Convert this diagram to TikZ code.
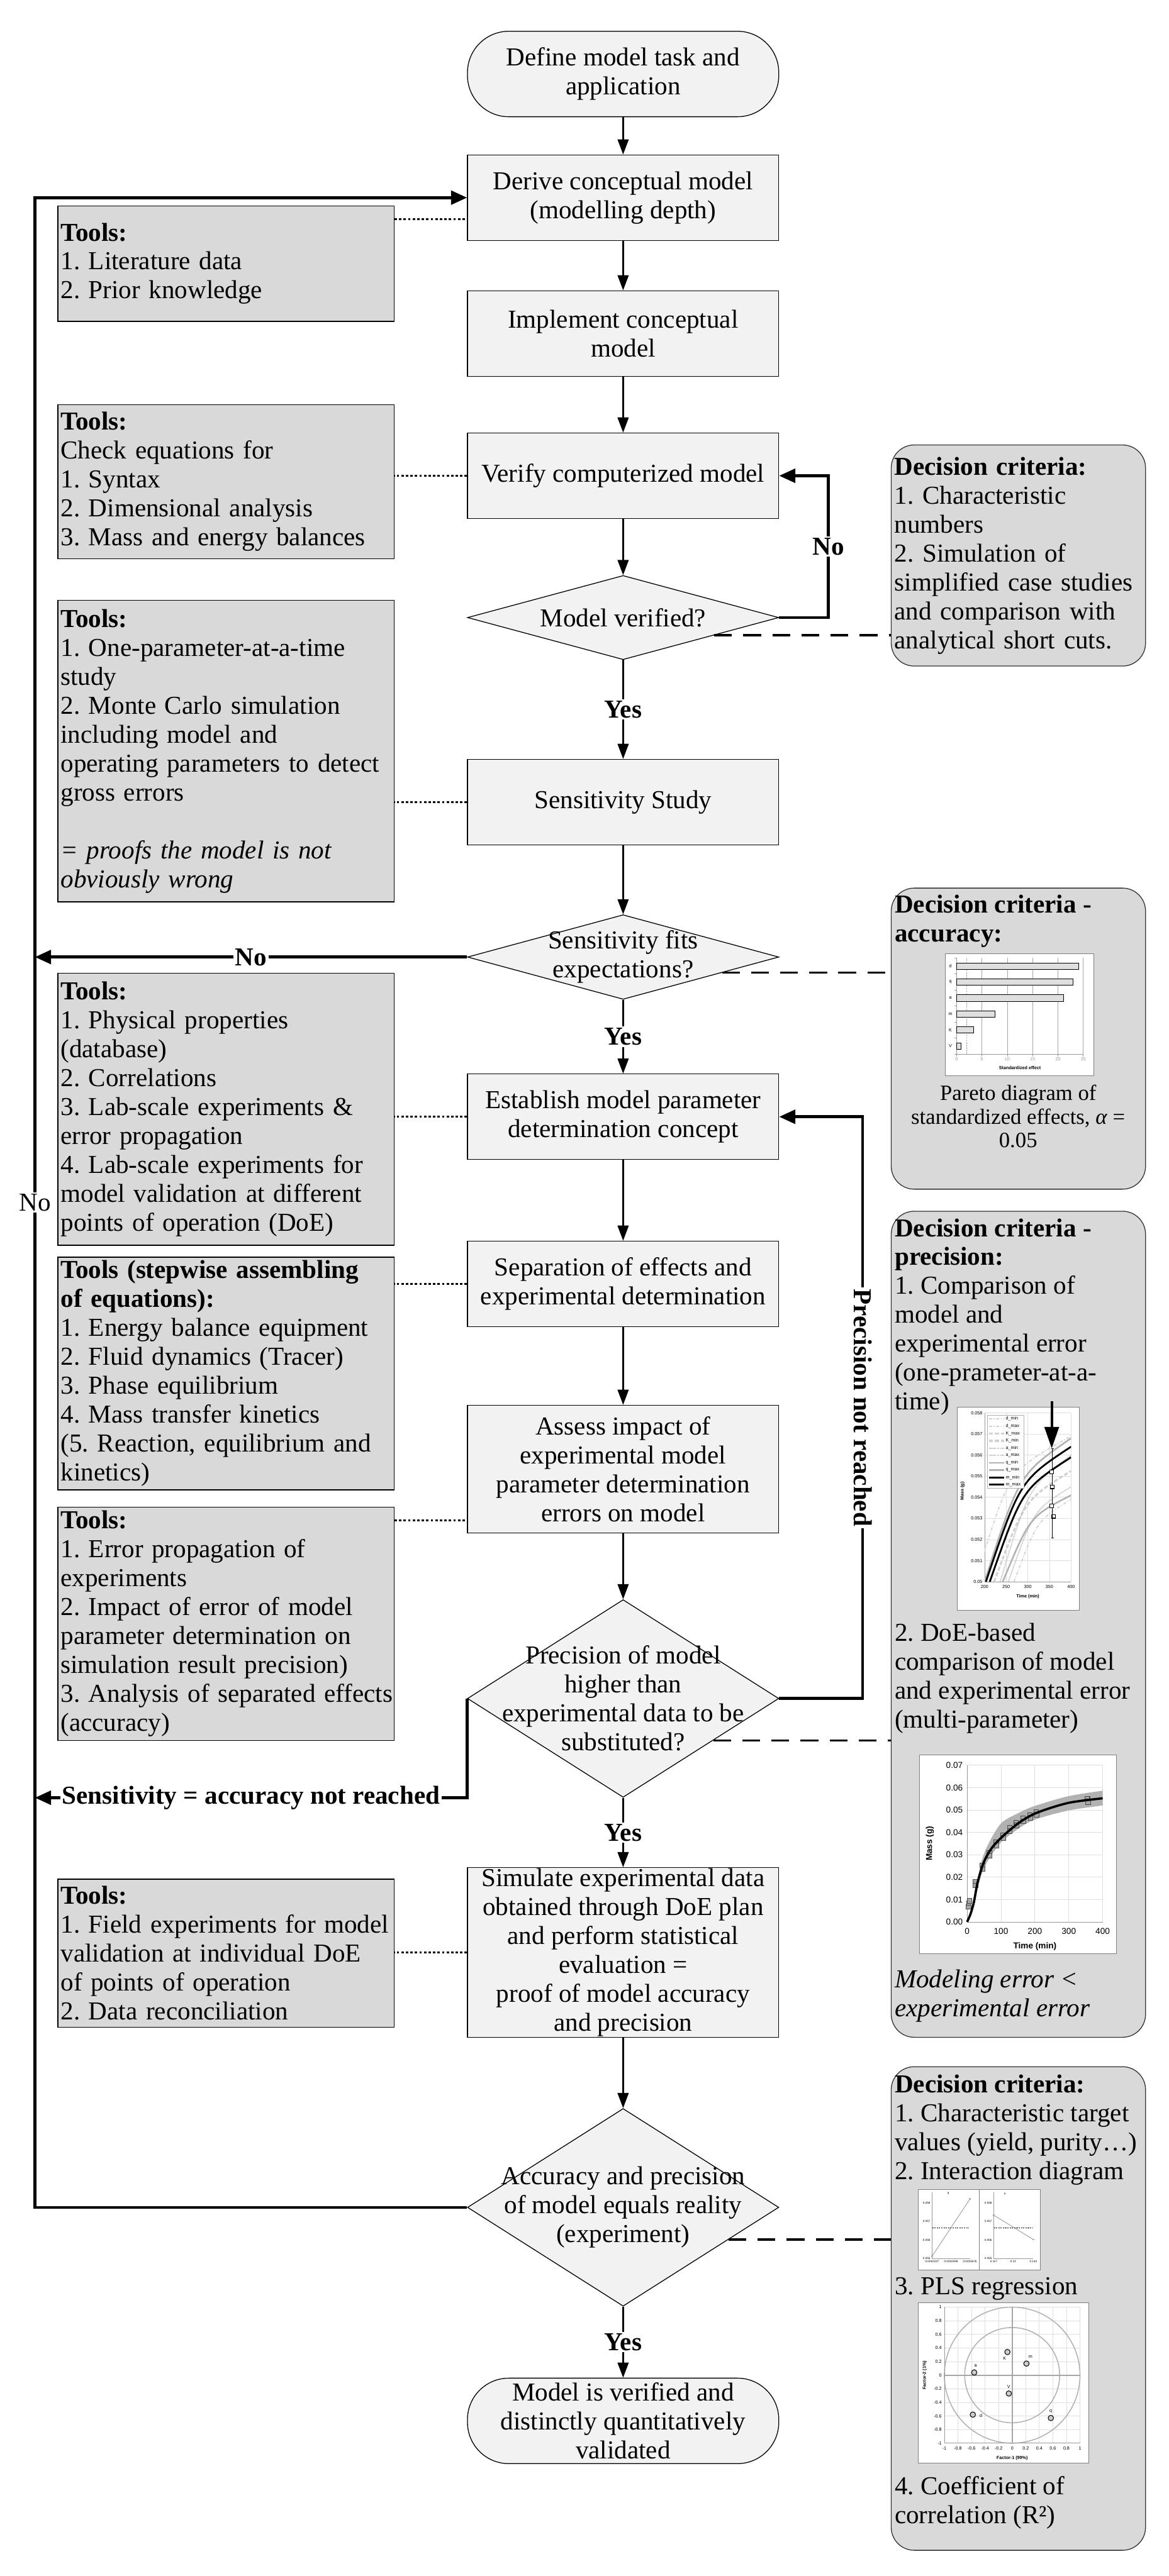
\documentclass[tikz,border=0pt]{standalone}
\usepackage{fontspec}
\setmainfont{Liberation Serif}
\setsansfont{Liberation Sans}
\usepackage{xcolor}
\usetikzlibrary{shapes.geometric, arrows.meta}

\definecolor{boxfill}{HTML}{F2F2F2}
\definecolor{toolfill}{HTML}{D9D9D9}
\newcommand{\flowfont}{\fontsize{16}{17.9}\selectfont}
\newcommand{\captionfont}{\fontsize{13.5}{14.6}\selectfont}

\begin{document}
\frenchspacing
\begin{tikzpicture}[x=1cm, y=-1cm, font=\flowfont,
    process/.style={rectangle, draw=black, line width=0.5pt, fill=boxfill, minimum width=6.77cm, minimum height=1.86cm, align=center, inner xsep=2pt, inner ysep=0pt},
    terminal/.style={process, rounded corners=0.9cm},
    decision/.style={diamond, draw=black, line width=0.5pt, fill=boxfill, minimum width=6.77cm, inner sep=0pt},
    toolbox/.style={rectangle, draw=black, line width=0.5pt, fill=toolfill, text width=7.19cm, align=left, inner xsep=0.06cm, inner ysep=0pt},
    critbox/.style={rectangle, draw=black!80, line width=0.5pt, fill=toolfill, rounded corners=0.5cm, minimum width=5.53cm},
    crittext/.style={anchor=west, align=left, inner sep=0pt},
    flow/.style={line width=0.9pt, -{Triangle[length=0.33cm, width=0.24cm]}},
    looparrow/.style={line width=1.8pt, -{Triangle[length=0.35cm, width=0.3cm]}},
    toolline/.style={line width=1.3pt, dash pattern=on 1.5pt off 1.3pt},
    critline/.style={line width=1.4pt, dash pattern=on 11pt off 7pt},
    lbl/.style={fill=white, font=\flowfont\bfseries, inner sep=1pt},
    raillbl/.style={fill=white, font=\flowfont, inner sep=1pt},
    chart/.style={draw=gray, line width=0.4pt, fill=white},
    ticklabel/.style={font=\sffamily\fontsize{2.8}{3.2}\selectfont, inner sep=0.6pt},
    ticktitle/.style={font=\sffamily\bfseries\fontsize{2.8}{3.2}\selectfont, inner sep=0.6pt},
    chartlabel/.style={font=\sffamily\fontsize{5.3}{6}\selectfont, inner sep=0.8pt},
    charttitle/.style={font=\sffamily\bfseries\fontsize{5.3}{6}\selectfont, inner sep=0.8pt},
    microlabel/.style={font=\sffamily\fontsize{1.8}{2}\selectfont, inner sep=0.4pt},
    curved/.style={gray!35, line width=0.7pt, dash pattern=on 2pt off 1pt on 0.5pt off 1pt},
    curvek/.style={gray!35, line width=1.2pt, dash pattern=on 2.5pt off 1.2pt},
    curvea/.style={gray!55, line width=0.7pt, dash pattern=on 0.5pt off 0.5pt},
    curveq/.style={gray!60, line width=1pt},
    curvem/.style={black, line width=1.1pt}
]

    % 1. Page
    \useasboundingbox (0,0) rectangle (25.41,56.04);
    \fill[white] (0,0) rectangle (25.41,56.04);

    % 2. Main flow column
    \node[terminal] (start) at (13.55,1.61) {Define model task and\\application};
    \node[process] (derive) at (13.55,4.30) {Derive conceptual model\\(modelling depth)};
    \node[process] (implement) at (13.55,7.255) {Implement conceptual\\model};
    \node[process] (verify) at (13.55,10.35) {Verify computerized model};
    \node[decision, minimum height=1.83cm, label={[align=center]center:Model verified?}] (verified) at (13.55,13.435) {};
    \node[process] (sens) at (13.55,17.45) {Sensitivity Study};
    \node[decision, minimum height=1.84cm, label={[align=center]center:{Sensitivity fits\\expectations?}}] (sensfit) at (13.55,20.82) {};
    \node[process] (establish) at (13.55,24.295) {Establish model parameter\\determination concept};
    \node[process] (separate) at (13.55,27.93) {Separation of effects and\\experimental determination};
    \node[process, minimum height=2.78cm] (assess) at (13.55,31.96) {Assess impact of\\experimental model\\parameter determination\\errors on model};
    \node[decision, minimum height=4.30cm, label={[align=center]center:{Precision of model\\higher than\\experimental data to be\\substituted?}}] (precise) at (13.55,36.95) {};
    \node[process, minimum height=3.69cm] (simulate) at (13.55,42.475) {Simulate experimental data\\obtained through DoE plan\\and perform statistical\\evaluation =\\proof of model accuracy\\and precision};
    \node[decision, minimum height=4.30cm, label={[align=center]center:{Accuracy and precision\\of model equals reality\\(experiment)}}] (reality) at (13.55,48.02) {};
    \node[terminal] (finish) at (13.55,52.665) {Model is verified and\\distinctly quantitatively\\validated};

    % 3. Tool boxes (left)
    \node[toolbox, minimum height=2.51cm] (t1) at (4.915,5.735) {\textbf{Tools:}\\1. Literature data\\2. Prior knowledge};
    \node[toolbox, minimum height=3.36cm] (t2) at (4.915,10.48) {\textbf{Tools:}\\Check equations for\\1. Syntax\\2. Dimensional analysis\\3. Mass and energy balances};
    \node[toolbox, minimum height=6.56cm] (t3) at (4.915,16.34) {\textbf{Tools:}\\1. One-parameter-at-a-time\\study\\2. Monte Carlo simulation\\including model and\\operating parameters to detect\\gross errors\\[17.9pt]\textit{= proofs the model is not}\\\textit{obviously wrong}};
    \node[toolbox, minimum height=5.92cm] (t4) at (4.915,24.13) {\textbf{Tools:}\\1. Physical properties\\(database)\\2. Correlations\\3. Lab-scale experiments \&\\error propagation\\4. Lab-scale experiments for\\model validation at different\\points of operation (DoE)};
    \node[toolbox, minimum height=5.06cm] (t5) at (4.915,29.88) {\textbf{Tools (stepwise assembling}\\\textbf{of equations):}\\1. Energy balance equipment\\2. Fluid dynamics (Tracer)\\3. Phase equilibrium\\4. Mass transfer kinetics\\(5. Reaction, equilibrium and\\kinetics)};
    \node[toolbox, minimum height=5.07cm] (t6) at (4.915,35.325) {\textbf{Tools:}\\1. Error propagation of\\experiments\\2. Impact of error of model\\parameter determination on\\simulation result precision)\\\mbox{3. Analysis of separated effects}\\(accuracy)};
    \node[toolbox, minimum height=3.22cm] (t7) at (4.915,42.49) {\textbf{Tools:}\\1. Field experiments for model\\validation at individual DoE\\of points of operation\\2. Data reconciliation};

    % 4. Decision criteria boxes (right)
    \node[critbox, minimum height=4.81cm, text width=5.39cm, align=left, inner xsep=0.07cm] (crit1) at (22.145,12.085) {\textbf{Decision criteria:}\\1. Characteristic\\numbers\\2. Simulation of\\simplified case studies\\and comparison with\\analytical short cuts.};
    \node[critbox, minimum height=6.55cm] (crit2) at (22.145,22.595) {};
    \node[critbox, minimum height=17.97cm] (crit3) at (22.145,35.335) {};
    \node[critbox, minimum height=10.52cm] (crit4) at (22.145,50.22) {};

    \node[crittext] (crit2head) at (19.45,20.04) {\textbf{Decision criteria -}\\\textbf{accuracy:}};
    \node[align=center, inner sep=0pt, font=\captionfont] (crit2cap) at (22.14,24.29) {Pareto diagram of\\standardized effects, \textit{α} =\\0.05};
    \node[crittext] (crit3a) at (19.45,28.65) {\textbf{Decision criteria -}\\\textbf{precision:}\\1. Comparison of\\model and\\experimental error\\(one-prameter-at-a-\\time)};
    \node[crittext] (crit3b) at (19.45,36.51) {2. DoE-based\\comparison of model\\and experimental error\\(multi-parameter)};
    \node[crittext] (crit3c) at (19.45,43.415) {\textit{Modeling error <}\\\textit{experimental error}};
    \node[crittext] (crit4a) at (19.45,46.33) {\textbf{Decision criteria:}\\1. Characteristic target\\values (yield, purity…)\\2. Interaction diagram};
    \node[crittext] (crit4b) at (19.45,49.79) {3. PLS regression};
    \node[crittext] (crit4c) at (19.45,54.45) {4. Coefficient of\\correlation (R²)};

    % 5. Flow arrows
    \draw[flow] (start) -- (derive);
    \draw[flow] (derive) -- (implement);
    \draw[flow] (implement) -- (verify);
    \draw[flow] (verify) -- (verified);
    \draw[flow] (verified) -- node[lbl] {Yes} (sens);
    \draw[flow] (sens) -- (sensfit);
    \draw[flow] (sensfit) -- node[lbl] {Yes} (establish);
    \draw[flow] (establish) -- (separate);
    \draw[flow] (separate) -- (assess);
    \draw[flow] (assess) -- (precise);
    \draw[flow] (precise) -- node[lbl] {Yes} (simulate);
    \draw[flow] (simulate) -- (reality);
    \draw[flow] (reality) -- node[lbl] {Yes} (finish);

    % 6. Feedback loops
    \coordinate (rail) at (0.76,4.30);
    \draw[looparrow] (verified.east) -- ++(1.07,0) |- node[pos=0.25, lbl] {No} (verify.east);
    \draw[looparrow] (sensfit.west) -- node[midway, lbl] {No} (sensfit.west -| rail);
    \draw[looparrow] (precise.east) -- ++(1.815,0) |- node[pos=0.25, lbl, rotate=-90] {Precision not reached} (establish.east);
    \draw[looparrow] (precise.west) |- node[pos=0.75, lbl] {Sensitivity = accuracy not reached} (precise.south -| rail);
    \draw[looparrow] (reality.west) -| node[pos=0.75, raillbl] {No} (rail) -- (derive.west);

    % 7. Tool connectors (dotted)
    \path ([yshift=-0.30cm]t1.north east) coordinate (t1c);
    \draw[toolline] (t1c) -- (t1c -| derive.west);
    \draw[toolline] (verify.west) -- (verify.west -| t2.east);
    \draw[toolline] (sens.west) -- (sens.west -| t3.east);
    \draw[toolline] (establish.west) -- (establish.west -| t4.east);
    \draw[toolline] (separate.west) -- (separate.west -| t5.east);
    \path ([yshift=-0.29cm]t6.north east) coordinate (t6c);
    \draw[toolline] (t6c) -- (t6c -| assess.west);
    \draw[toolline] (simulate.west) -- (simulate.west -| t7.east);

    % 8. Criteria connectors (dashed)
    \draw[critline] (verified.-11.4) -- (verified.-11.4 -| crit1.west);
    \draw[critline] (sensfit.-9.5) -- (sensfit.-9.5 -| crit2.west);
    \draw[critline] (precise.-25) -- (precise.-25 -| crit3.west);
    \draw[critline] (reality.-17.4) -- (reality.-17.4 -| crit4.west);

    % 9. Pareto diagram
    \draw[chart] (20.55,20.75) rectangle (23.78,23.40);
    \begin{scope}[shift={(20.80cm,-22.93cm)}, x=0.1103cm, y=0.348cm]
        \foreach \g in {5,10,...,25} \draw[gray!70, line width=0.3pt] (\g,0) -- (\g,6);
        \draw[gray!70, line width=0.3pt, dash pattern=on 1pt off 0.6pt] (2,0) -- (2,6);
        \draw[gray!80, line width=0.3pt] (0,6) -- (0,0) -- (25,0);
        \foreach \r in {0,...,6} \draw[gray!80, line width=0.3pt] (0,\r) -- (-0.4,\r);
        \foreach \g in {0,5,...,25} \draw[gray!80, line width=0.3pt] (\g,0) -- (\g,-0.15) node[below, ticklabel] {\g};
        \foreach \len/\row/\name in {24.1/5/d, 23/4/q, 21.1/3/a, 7.6/2/m, 3.4/1/K, 0.85/0/V} {
            \draw[fill=gray!25, line width=0.35pt] (0,\row+0.3) rectangle (\len,\row+0.7);
            \node[ticklabel] at (-1.2,\row+0.5) {\name};
        }
        \node[ticktitle] at (12.5,-0.85) {Standardized effect};
    \end{scope}

    % 10. One-parameter-at-a-time chart
    \draw[chart] (20.81,30.61) rectangle (23.47,35.03);
    \begin{scope}[shift={(21.41cm,-34.41cm)}, x=0.0094cm, y=0.459cm]
        \foreach \g in {50,100,150,200} \draw[gray!25, line width=0.3pt] (\g,0) -- (\g,8);
        \foreach \g in {1,...,8} \draw[gray!25, line width=0.3pt] (0,\g) -- (200,\g);
        \draw[gray!80, line width=0.3pt] (0,8) -- (0,0) -- (200,0);
        \foreach \g/\txt in {0/0.05,1/0.051,2/0.052,3/0.053,4/0.054,5/0.055,6/0.056,7/0.057,8/0.058}
            \node[ticklabel, left] at (-2,\g) {\txt};
        \foreach \g/\txt in {0/200,50/250,100/300,150/350,200/400}
            \node[ticklabel, below] at (\g,-0.1) {\txt};
        \node[ticktitle, rotate=90] at (-51,4.3) {Mass (g)};
        \node[ticktitle] at (100,-0.7) {Time (min)};
        \begin{scope}
            \clip (0,0) rectangle (200,8);
            \draw[curved] (68,0) .. controls (121,2.9) .. (200,3.9);
            \draw[curved] (0,1.45) .. controls (60,5.3) .. (200,6.9);
            \draw[curvek] (22,0) .. controls (93,3.9) .. (200,5.25);
            \draw[curvea] (36,0) .. controls (102,4.5) .. (200,6.0);
            \draw[curvea] (55,0) .. controls (113,3.4) .. (200,4.5);
            \draw[curveq] (0,0) .. controls (80,5.1) .. (200,6.8);
            \draw[curveq] (42,0) .. controls (105,3.1) .. (200,4.1);
            \draw[curvem] (3,0) .. controls (82,4.8) .. (200,6.4);
            \draw[curvem] (12,0) .. controls (87,4.4) .. (200,5.9);
        \end{scope}
        \draw[black, line width=0.4pt] (157,2.07) -- (157,6.3);
        \draw[black, line width=0.4pt] (154,2.07) -- (160,2.07) (154,6.3) -- (160,6.3);
        \foreach \t/\m in {155/5.2, 157/4.5, 155/3.6, 160/3.1}
            \draw[black, fill=white, line width=0.5pt] (\t,\m) ++(-0.04cm,-0.04cm) rectangle ++(0.08cm,0.08cm);
        \draw[gray!60, fill=white, line width=0.3pt] (6,4.42) rectangle (91,7.89);
        \foreach \name/\sty [count=\k from 0] in {d\_min/curved, d\_max/curved, K\_max/curvek, K\_min/curvek, a\_min/curvea, a\_max/curvea, q\_min/curveq, q\_max/curveq, m\_min/curvem, m\_max/curvem} {
            \draw[\sty] (10,7.72-0.347*\k) -- (45,7.72-0.347*\k);
            \node[ticklabel, anchor=west] at (46,7.72-0.347*\k) {\name};
        }
    \end{scope}
    \draw[line width=1.6pt, -{Triangle[length=0.47cm, width=0.31cm]}] (22.87,30.48) -- (22.87,31.51);

    % 11. DoE-based chart
    \draw[chart] (19.99,38.18) rectangle (24.28,42.50);
    \begin{scope}[shift={(21.03cm,-41.81cm)}, x=0.007375cm, y=0.0487cm]
        \foreach \g in {100,200,300,400} \draw[gray!25, line width=0.3pt] (\g,0) -- (\g,70);
        \foreach \g in {10,20,...,70} \draw[gray!25, line width=0.3pt] (0,\g) -- (400,\g);
        \draw[gray!80, line width=0.3pt] (0,70) -- (0,0) -- (400,0);
        \fill[gray!60] plot[smooth] coordinates {(0,0) (20,10) (40,25.5) (60,34) (100,44) (150,48.5) (200,51.8) (300,56.2) (400,58.6)}
            -- plot[smooth] coordinates {(400,52) (300,49.8) (200,45.7) (150,41.5) (100,35.5) (60,27) (40,20) (20,7.5) (0,0)} -- cycle;
        \foreach \t/\m in {4.5/6.8, 5.4/8.4, 7.7/9.4, 24.9/18, 24.9/16.3, 45.2/25.2, 46.6/23.5, 65.5/30.9, 66.9/29.4, 85.9/35.5, 87.2/34.1, 106/38.7, 107.6/37.5, 125.6/42, 126.6/40.6, 144.6/44.4, 146/43.1, 164.9/46.3, 166/45, 185.8/47.6, 187.6/46.5, 203.4/49, 205/47.9, 355/55, 356/53.9, 357/53.3}
            \draw[fill=gray!70, draw=black!70, line width=0.4pt] (\t,\m) ++(-0.05cm,-0.05cm) rectangle ++(0.1cm,0.1cm);
        \draw[black, line width=1.4pt] plot[smooth] coordinates {(0,0) (10,3.5) (20,8.8) (30,17) (45,25) (60,30) (80,34.4) (115,39.6) (160,45) (210,49) (300,53.2) (400,55.2)};
        \foreach \g/\txt in {0/0.00,10/0.01,20/0.02,30/0.03,40/0.04,50/0.05,60/0.06,70/0.07}
            \node[chartlabel, left] at (-8,\g) {\txt};
        \foreach \g in {0,100,200,300,400}
            \node[chartlabel, below] at (\g,-2) {\g};
        \node[charttitle, rotate=90] at (-110,35) {Mass (g)};
        \node[charttitle] at (200,-11) {Time (min)};
    \end{scope}

    % 12. Interaction diagram
    \draw[chart] (19.97,47.63) rectangle (22.62,49.38);
    \draw[gray, line width=0.3pt] (21.29,47.63) -- (21.29,49.38);
    \draw[gray!80, line width=0.3pt] (20.27,47.70) -- (20.27,49.13) -- (21.09,49.13);
    \draw[gray!80, line width=0.3pt] (21.61,47.70) -- (21.61,49.13) -- (22.47,49.13);
    \foreach \yy/\txt in {47.92/0.058, 48.32/0.057, 48.73/0.056, 49.13/0.055} {
        \node[microlabel, anchor=east] at (20.25,\yy) {\txt};
        \node[microlabel, anchor=east] at (21.59,\yy) {\txt};
    }
    \foreach \xx/\txt in {20.27/0.0010237, 20.68/0.0010459, 21.09/0.0010676, 21.61/0.117, 22.03/0.13, 22.47/0.143}
        \node[microlabel, anchor=north] at (\xx,49.16) {\txt};
    \draw[gray!70, line width=0.4pt] (20.27,49.08) -- (21.09,47.84);
    \draw[gray!70, line width=0.4pt] (21.61,48.19) -- (22.47,48.72);
    \foreach \xx/\yy in {20.27/49.08, 21.09/47.84, 21.61/48.19, 22.47/48.72}
        \fill[gray!60] (\xx,\yy) ++(-0.02,-0.02) rectangle ++(0.04,0.04);
    \draw[black, line width=0.3pt, dash pattern=on 0.8pt off 0.6pt] (20.27,48.46) -- (21.06,48.46);
    \draw[black, line width=0.3pt, dash pattern=on 0.8pt off 0.6pt] (21.61,48.46) -- (22.45,48.46);
    \node[microlabel] at (20.62,47.72) {q};
    \node[microlabel] at (21.85,47.72) {a};

    % 13. PLS regression chart
    \draw[chart] (19.97,50.10) rectangle (23.68,53.59);
    \begin{scope}[shift={(22.01cm,-51.67cm)}, x=1.475cm, y=1.48cm]
        \foreach \i in {-5,...,5} {
            \draw[gray!25, line width=0.3pt] (\i/5,-1) -- (\i/5,1);
            \draw[gray!25, line width=0.3pt] (-1,\i/5) -- (1,\i/5);
        }
        \draw[gray!60, line width=0.6pt] (0,0) circle[radius=1];
        \draw[gray!60, line width=0.6pt] (0,0) circle[radius=0.7];
        \draw[gray!70, line width=0.8pt] (-1,0) -- (1,0) (0,-1) -- (0,1);
        \draw[gray!80, line width=0.3pt] (-1,1) -- (-1,-1) -- (1,-1);
        \foreach \v/\txt in {-1/-1, -0.8/-0.8, -0.6/-0.6, -0.4/-0.4, -0.2/-0.2, 0/0, 0.2/0.2, 0.4/0.4, 0.6/0.6, 0.8/0.8, 1/1} {
            \node[ticklabel, left] at (-1.02,\v) {\txt};
            \node[ticklabel, below] at (\v,-1.03) {\txt};
        }
        \foreach \px/\py in {-0.56/0.04, -0.07/0.34, 0.21/0.17, -0.05/-0.27, -0.58/-0.58, 0.57/-0.63}
            \draw[fill=gray!40, line width=0.4pt] (\px,\py) circle[radius=0.04];
        \node[ticklabel] at (-0.54,0.14) {a};
        \node[ticklabel] at (-0.11,0.25) {K};
        \node[ticklabel] at (0.27,0.27) {m};
        \node[ticklabel] at (-0.05,-0.17) {V};
        \node[ticklabel] at (-0.46,-0.59) {d};
        \node[ticklabel] at (0.57,-0.53) {q};
        \node[ticktitle] at (0,-1.22) {Factor-1 (99\%)};
        \node[ticktitle, rotate=90] at (-1.29,0) {Factor-2 (1\%)};
    \end{scope}

\end{tikzpicture}
\end{document}
